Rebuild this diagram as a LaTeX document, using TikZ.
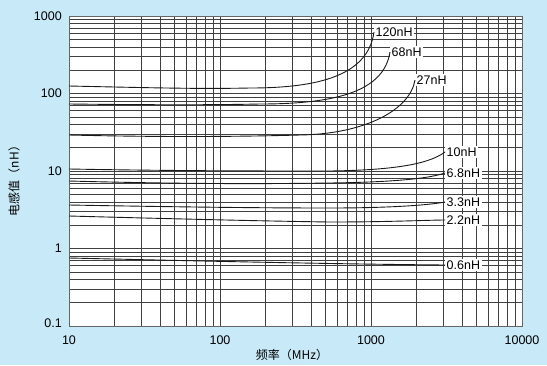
\documentclass[tikz,border=0pt]{standalone}
\usepackage{fontspec}
\setmainfont{Liberation Sans}
\newfontfamily\cjk{Noto Sans CJK SC}
\definecolor{bgblue}{RGB}{200,233,248}
\begin{document}
\begin{tikzpicture}[x=1pt,y=-1pt,
  gridline/.style={draw=black!75,line width=0.65pt},
  curve/.style={draw=black!90,line width=0.9pt},
  lbl/.style={fill=white,inner sep=1.5pt,anchor=west,font=\fontsize{12.5}{12.5}\selectfont},
  ytick/.style={anchor=east,inner sep=0pt,font=\fontsize{12.5}{12.5}\selectfont},
  xtick/.style={anchor=center,inner sep=0pt,font=\fontsize{12.5}{12.5}\selectfont}]
\useasboundingbox (0,0) rectangle (547,365);
\fill[bgblue] (0,0) rectangle (547,365);
\fill[white] (69,16) rectangle (522,326);
% grid
\foreach \d in {0,1,2}{\foreach \m in {1,...,9}{
  \pgfmathsetmacro\gx{69+151*(\d+log10(\m))}
  \draw[gridline] (\gx,16) -- (\gx,326);}}
\foreach \d in {0,1,2,3}{\foreach \m in {1,...,9}{
  \pgfmathsetmacro\gy{326-77.5*(\d+log10(\m))}
  \draw[gridline] (69,\gy) -- (522,\gy);}}
\draw[black!60,line width=0.8pt] (69,16) rectangle (522,326);
% curve labels
\node[lbl] (l120) at (374,32) {120nH};
\node[lbl] (l68) at (390,52) {68nH};
\node[lbl] (l27) at (415,80) {27nH};
\node[lbl] (l10) at (445,152) {10nH};
\node[lbl] (l68b) at (445,173) {6.8nH};
\node[lbl] (l33) at (445,202) {3.3nH};
\node[lbl] (l22) at (445,220) {2.2nH};
\node[lbl] (l06) at (445,265) {0.6nH};
% curve start points
\coordinate (s120) at (69,86);
\coordinate (s68) at (69,104);
\coordinate (s27) at (69,135);
\coordinate (s10) at (69,169);
\coordinate (s68b) at (69,181);
\coordinate (s33) at (69,205);
\coordinate (s22) at (69,216);
\coordinate (s06) at (69,258);
% curves
\draw[curve] (s120) .. controls (160,88) and (200,89) .. (250,88)
  .. controls (320,88) and (368,75) .. (l120.west);
\draw[curve] (s68) .. controls (160,105) and (210,105) .. (260,104)
  .. controls (340,104) and (384,90) .. (l68.west);
\draw[curve] (s27) .. controls (150,137) and (230,137) .. (300,135)
  .. controls (365,134) and (410,110) .. (l27.west);
\draw[curve] (s10) .. controls (180,171) and (260,171) .. (330,171)
  .. controls (400,170) and (430,163) .. (l10.west);
\draw[curve] (s68b) .. controls (180,184) and (260,184) .. (330,183)
  .. controls (400,182) and (430,178) .. (l68b.west);
\draw[curve] (s33) .. controls (180,207) and (260,208) .. (330,208)
  .. controls (390,208) and (430,205) .. (l33.west);
\draw[curve] (s22) .. controls (180,219) and (260,221) .. (330,222)
  .. controls (390,222) and (430,220) .. (l22.west);
\draw[curve] (s06) .. controls (200,261) and (330,264) .. (l06.west);
% tick labels
\node[ytick] (y1000) at (62,16) {1000};
\node[ytick] (y100) at (62,93.5) {100};
\node[ytick] (y10) at (62,171) {10};
\node[ytick] (y1) at (62,248.5) {1};
\node[ytick] (y01) at (62,323) {0.1};
\node[xtick] (x10) at (69,340) {10};
\node[xtick] (x100) at (220,340) {100};
\node[xtick] (x1000) at (371,340) {1000};
\node[xtick] (x10000) at (522,340) {10000};
% axis titles
\node[inner sep=0pt,font=\cjk\fontsize{12}{12}\selectfont] (xt) at (292,355) {频率（MHz）};
\node[inner sep=0pt,rotate=90,font=\cjk\fontsize{12}{12}\selectfont] (yt) at (14,178) {电感值（nH）};
\end{tikzpicture}
\end{document}
